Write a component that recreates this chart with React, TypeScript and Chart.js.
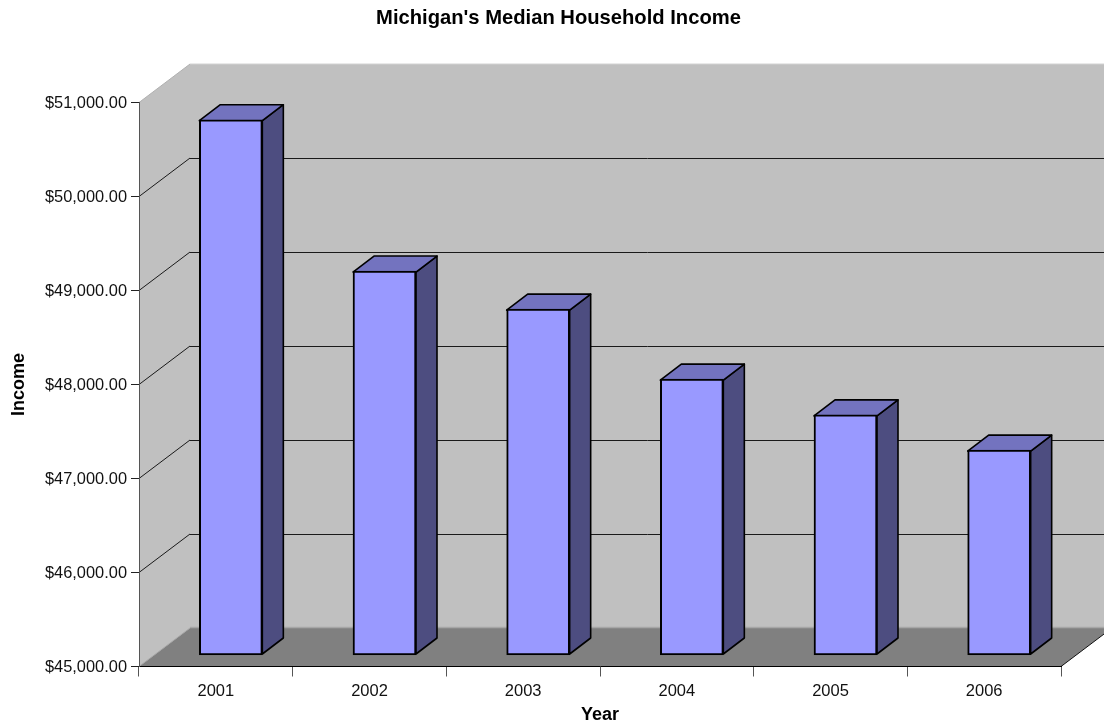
import React, { useEffect, useRef } from "react";
import { Chart, registerables } from "chart.js";

Chart.register(...registerables);

const years = ["2001", "2002", "2003", "2004", "2005", "2006"];
const income = [50700, 49090, 48685, 47940, 47560, 47185];
const baseValue = 45000;
const titleText = "Michigan's Median Household Income";
const xTitle = "Year";
const yTitle = "Income";
const FONT = "'Liberation Sans', Arial, sans-serif";

const WALL = "#C0C0C0";
const FLOOR = "#808080";
const FRONT = "#9999FF";
const SIDE = "#4D4D80";
const TOP = "#7373BF";
const DEPTH_X = 51;
const DEPTH_Y = 38.5;
const BAR_DX = 15;
const BAR_DY = 11;
const BAR_DEPTH_X = 21;
const BAR_DEPTH_Y = 16;

function poly(ctx: CanvasRenderingContext2D, pts: number[][], fill: string, stroke?: string, lw = 1) {
  ctx.beginPath();
  pts.forEach((p, i) => (i ? ctx.lineTo(p[0], p[1]) : ctx.moveTo(p[0], p[1])));
  ctx.closePath();
  ctx.fillStyle = fill;
  ctx.fill();
  if (stroke) {
    ctx.strokeStyle = stroke;
    ctx.lineWidth = lw;
    ctx.lineJoin = "round";
    ctx.stroke();
  }
}

function line(ctx: CanvasRenderingContext2D, x1: number, y1: number, x2: number, y2: number, c: string, lw = 1) {
  ctx.beginPath();
  ctx.moveTo(x1, y1);
  ctx.lineTo(x2, y2);
  ctx.strokeStyle = c;
  ctx.lineWidth = lw;
  ctx.stroke();
}

const box3d = {
  id: "box3d",
  afterLayout(chart: any) {
    // The reference's title is centred a little right of the plot area.
    if (chart.titleBlock) {
      chart.titleBlock.left = 13;
      chart.titleBlock.right = 1104;
    }
  },
  beforeDraw(chart: any) {
    const { ctx, chartArea: a, scales } = chart;
    const dx = DEPTH_X, dy = DEPTH_Y;
    ctx.save();
    poly(ctx, [[a.left, a.top], [a.left + dx, a.top - dy], [a.left + dx, a.bottom - dy], [a.left, a.bottom]], WALL);
    poly(ctx, [[a.left + dx, a.top - dy], [a.right + dx, a.top - dy], [a.right + dx, a.bottom - dy], [a.left + dx, a.bottom - dy]], WALL);
    poly(ctx, [[a.left, a.bottom], [a.left + dx, a.bottom - dy], [a.right + dx, a.bottom - dy], [a.right, a.bottom]], FLOOR);
    line(ctx, a.left + dx, a.bottom - dy - 0.5, a.right + dx, a.bottom - dy - 0.5, "#A6A6A6", 1.5);
    line(ctx, a.left, a.bottom, a.left + dx, a.bottom - dy, "#A6A6A6", 1);
    line(ctx, a.left, a.top, a.left + dx, a.top - dy, "#B0B0B0", 1);
    line(ctx, a.left + dx, a.top - dy, a.right + dx, a.top - dy, "#D0D0D0", 1);
    const y = scales.y;
    y.ticks.forEach((t: any, i: number) => {
      if (t.value === y.min || t.value === y.max) return;
      const py = y.getPixelForTick(i);
      line(ctx, a.left, py, a.left + dx, py - dy, "#1A1A1A", 1);
      const gy = Math.round(py - dy) + 0.5;
      line(ctx, a.left + dx, gy, a.right + dx, gy, "#1A1A1A", 1);
    });
    line(ctx, a.right, a.bottom, a.right + dx, a.bottom - dy, "#111", 1);
    ctx.restore();
  },
  beforeDatasetsDraw(chart: any) {
    const { ctx } = chart;
    const bars = chart.getDatasetMeta(0).data;
    ctx.save();
    ctx.translate(BAR_DX, -BAR_DY);
    bars.forEach((b: any) => {
      const x1 = b.x - b.width / 2;
      const x2 = b.x + b.width / 2;
      const t = b.y + 1;
      const bt = b.base - 1;
      const ex = BAR_DEPTH_X, ey = BAR_DEPTH_Y;
      poly(ctx, [[x2, t], [x2 + ex, t - ey], [x2 + ex, bt - ey], [x2, bt]], SIDE, "#000", 1.6);
      poly(ctx, [[x1, t], [x1 + ex, t - ey], [x2 + ex, t - ey], [x2, t]], TOP, "#000", 1.6);
    });
  },
  afterDatasetsDraw(chart: any) {
    chart.ctx.restore();
  },
};

export default function App() {
  const ref = useRef<HTMLCanvasElement | null>(null);
  useEffect(() => {
    const chart = new Chart(ref.current as HTMLCanvasElement, {
      type: "bar",
      data: {
        labels: years,
        datasets: [
          {
            data: income,
            base: baseValue,
            backgroundColor: FRONT,
            borderColor: "#000",
            borderWidth: 2,
            borderSkipped: false,
            barThickness: 63,
          } as any,
        ],
      },
      options: {
        animation: false,
        responsive: false,
        layout: { padding: { top: 0, left: 0, right: 43, bottom: 0 } },
        plugins: {
          legend: { display: false },
          tooltip: { enabled: false },
          title: {
            display: true,
            text: titleText,
            color: "#000",
            font: { family: FONT, size: 20.2, weight: "bold" },
            padding: { top: 6, bottom: 72.3 },
          },
        },
        scales: {
          x: {
            afterFit: (s: any) => { s.height = 58.5; },
            grid: { drawOnChartArea: false, drawTicks: true, tickLength: 10, color: "#555" },
            border: { color: "#000", width: 1 },
            ticks: { color: "#111", padding: 5, font: { family: FONT, size: 16.5 }, maxRotation: 0 },
            title: {
              display: true,
              text: xTitle,
              color: "#000",
              font: { family: FONT, size: 18, weight: "bold" },
              padding: { top: 0, bottom: -1 },
            },
          },
          y: {
            min: 45000,
            max: 51000,
            afterFit: (s: any) => { s.width = 139; },
            grid: { drawOnChartArea: false, drawTicks: true, tickLength: 8, color: "#222" },
            border: { color: "#555", width: 1 },
            ticks: {
              stepSize: 1000,
              color: "#111",
              padding: 4,
              labelOffset: 1,
              font: { family: FONT, size: 16.4 },
              callback: (v: any) => "$" + Number(v).toLocaleString("en-US", { minimumFractionDigits: 2 }),
            },
            title: {
              display: true,
              text: yTitle,
              color: "#000",
              font: { family: FONT, size: 18, weight: "bold" },
              padding: { top: 8, bottom: 0 },
            },
          },
        },
      },
      plugins: [box3d],
    } as any);
    return () => chart.destroy();
  }, []);
  return (
    <div style={{ position: "fixed", left: 0, top: 0, width: 1104, height: 725, background: "#fff" }}>
      <canvas ref={ref} width={1104} height={725} style={{ display: "block" }} />
    </div>
  );
}
